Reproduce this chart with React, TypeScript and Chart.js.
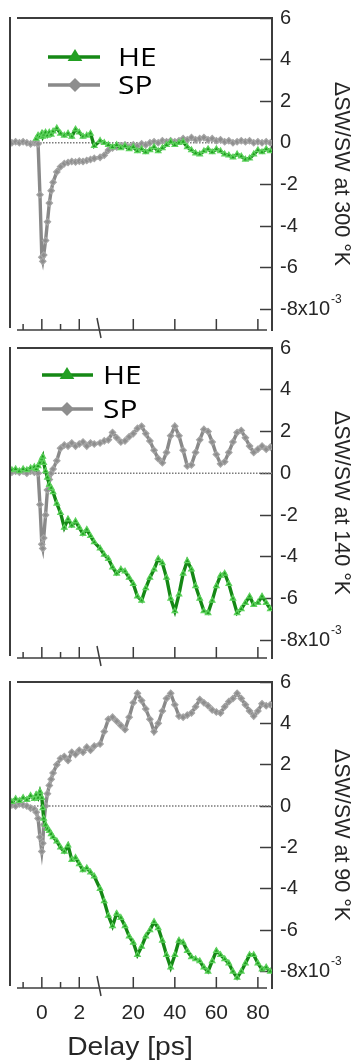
import React, { useEffect, useRef } from 'react';
import { Chart, LinearScale, registerables } from 'chart.js';

Chart.register(...registerables);

// ---------------- data ----------------
const DELAYS_PS = [
  -1.6, -1.4, -1.2, -1.0, -0.8, -0.6, -0.4, -0.3, -0.2, -0.1, 0, 0.05, 0.1, 0.2, 0.3, 0.4, 0.5, 0.6, 0.8, 1.0,
  1.2, 1.4, 1.6, 1.8, 2.0, 2.2, 2.4, 2.6, 2.8,
  4, 6, 8, 10, 12, 14, 16, 18, 20, 22, 24, 26, 28, 30, 32, 34, 36, 38, 40, 42, 44, 46, 48, 50, 52, 54, 56, 58,
  60, 62, 64, 66, 68, 70, 72, 74, 76, 78, 80, 82, 84, 86,
];

const HE_300K = [
  null, null, null, null, null, null, null, 0.2, 0.35, 0.3, 0.45, 0.3, 0.4, 0.5, 0.35, 0.5, 0.4, 0.55, 0.7, 0.45,
  0.35, 0.45, 0.3, 0.65, 0.5, 0.3, 0.35, 0.45, -0.15,
  0.1, 0.0, -0.1, -0.2, -0.1, -0.25, -0.15, -0.3, -0.2, -0.4, -0.3, -0.45, -0.35, -0.2, -0.4, -0.25, -0.1, 0.05,
  -0.1, 0.0, 0.05, -0.2, -0.35, -0.5, -0.55, -0.4, -0.3, -0.45, -0.3, -0.4, -0.55, -0.6, -0.7, -0.55, -0.65,
  -0.8, -0.75, -0.55, -0.35, -0.45, -0.3, -0.4,
];
const SP_300K = [
  0.0, 0.05, 0.0, 0.05, 0.0, -0.05, 0.0, 0.0, -0.05, -2.5, -5.5, -5.7, -5.4, -4.7, -3.8, -2.9, -2.3, -1.9, -1.4,
  -1.15, -1.0, -0.95, -0.9, -0.92, -0.88, -0.9, -0.85, -0.8, -0.75,
  -0.7, -0.6, -0.35, -0.25, -0.2, -0.15, -0.1, -0.2, -0.1, -0.15, -0.05, -0.1, 0.0, 0.05, 0.0, 0.1, 0.05, 0.1,
  0.05, 0.1, 0.2, 0.15, 0.25, 0.15, 0.2, 0.25, 0.15, 0.2, 0.1, 0.15, 0.05, 0.1, 0.0, 0.05, 0.1, 0.05, 0.1, 0.0,
  0.05, 0.0, 0.05, 0.0,
];

const HE_140K = [
  0.15, 0.2, 0.1, 0.2, 0.15, 0.25, 0.3, 0.2, 0.35, 0.5, 0.7, 0.8, 0.5, 0.1, -0.2, -0.55, -0.7, -0.9, -1.45, -1.9,
  -2.6, -2.2, -2.5, -2.3, -2.6, -2.9, -2.7, -3.0, -3.3,
  -3.6, -3.9, -4.1, -4.5, -4.8, -4.6, -4.7, -5.0, -5.3, -5.9, -6.1, -5.5, -5.0, -4.6, -4.1, -4.3, -5.0, -6.0,
  -6.6, -5.8, -4.8, -4.2, -4.6, -5.4, -6.0, -6.6, -6.7, -6.1, -5.4, -4.9, -4.8, -5.3, -6.0, -6.7, -6.5, -6.2,
  -5.9, -6.3, -6.2, -5.9, -6.2, -6.5,
];
const SP_140K = [
  0.05, 0.1, 0.05, 0.1, 0.0, 0.1, 0.05, 0.1, 0.0, -1.5, -3.4, -3.6, -3.1, -2.0, -0.8, -0.3, 0.0, 0.2, 0.6, 1.2,
  1.35, 1.3, 1.45, 1.3, 1.4, 1.5, 1.3, 1.45, 1.4,
  1.45, 1.55, 1.6, 1.95, 1.7, 1.5, 1.55, 1.75, 1.9, 2.15, 2.25, 1.9, 1.55, 1.1, 0.7, 0.5, 1.0, 1.8, 2.25, 1.8,
  1.1, 0.35, 0.4, 1.0, 1.6, 2.1, 2.0, 1.5, 0.9, 0.45, 0.55, 1.0, 1.5, 1.95, 2.05, 1.7, 1.3, 1.0, 1.15, 1.3,
  1.15, 1.25,
];

const HE_90K = [
  0.2, 0.35, 0.25, 0.4, 0.3, 0.5, 0.35, 0.55, 0.4, 0.7, 0.4, -0.1, -0.6, -0.9, -1.1, -1.2, -1.35, -1.5, -1.7,
  -2.0, -2.2, -1.9, -2.6, -2.5, -2.8, -3.1, -3.0, -3.2, -3.4,
  -4.0, -4.6, -5.3, -5.8, -5.2, -5.4, -5.8, -6.3, -6.6, -7.2, -6.8, -6.3, -6.0, -5.6, -5.9, -6.5, -7.2, -7.8,
  -7.2, -6.5, -6.6, -7.0, -7.3, -7.4, -7.5, -7.8, -8.0, -7.5, -7.0, -7.2, -7.4, -7.6, -8.0, -8.3, -8.0, -7.6,
  -7.2, -7.2, -7.6, -7.9, -7.8, -8.0,
];
const SP_90K = [
  0.05, 0.0, 0.1, 0.05, 0.0, -0.1, -0.15, -0.3, -0.6, -1.5, -2.2, -1.8, -0.9, 0.0, 0.6, 1.0, 1.3, 1.6, 2.0, 2.3,
  2.4, 2.2, 2.6, 2.5, 2.7, 2.6, 2.85, 2.7, 2.9,
  3.0, 3.6, 4.2, 4.3, 4.1, 3.9, 3.7, 4.3, 5.0, 5.45, 5.1, 4.7, 4.2, 3.6, 4.0, 4.6, 5.2, 5.45, 4.9, 4.35, 4.3,
  4.4, 4.5, 4.8, 5.15, 5.0, 4.85, 4.65, 4.55, 4.5, 4.8, 5.05, 5.2, 5.45, 5.2, 4.9, 4.6, 4.35, 4.6, 4.95, 4.85,
  4.9,
];

const SERIES_NAMES = ['HE', 'SP'];
const Y_TITLES = ['ΔSW/SW at 300 °K', 'ΔSW/SW at 140 °K', 'ΔSW/SW at 90 °K'];
const X_TITLE = 'Delay [ps]';
const X_LABEL_TICKS = [0, 2, 20, 40, 60, 80];
const X_MINOR_TICKS = [-1, 1];
const Y_TICKS = [-8, -6, -4, -2, 0, 2, 4, 6];

// ---------------- axis geometry ----------------
const X_MIN = -1.7;
const X_MAX = 86.8;
const X_BREAK = 3;
const X_BREAK_FRAC = 88 / 262;

const FONT = "'Liberation Sans', Arial, sans-serif";
const TEXT = '#262626';
const FRAME = '#3c3c3c';
const HE_LINE = '#158815';
const HE_POINT = '#22a022';
const HE_EDGE = '#5fd35f';
const SP_LINE = '#898989';
const SP_POINT = '#8e8e8e';
const SP_EDGE = '#a6a6a6';

class BrokenLinearScale extends LinearScale {
  static id = 'brokenLinear';
  static defaults = { ...(LinearScale as any).defaults };
  getPixelForValue(value: number) {
    const min = (this as any).min;
    const max = (this as any).max;
    let dec;
    if (value <= X_BREAK) dec = ((value - min) / (X_BREAK - min)) * X_BREAK_FRAC;
    else dec = X_BREAK_FRAC + ((value - X_BREAK) / (max - X_BREAK)) * (1 - X_BREAK_FRAC);
    return (this as any).getPixelForDecimal(dec);
  }
  getValueForPixel(pixel: number) {
    const dec = (this as any).getDecimalForPixel(pixel);
    const min = (this as any).min;
    const max = (this as any).max;
    if (dec <= X_BREAK_FRAC) return min + (dec / X_BREAK_FRAC) * (X_BREAK - min);
    return X_BREAK + ((dec - X_BREAK_FRAC) / (1 - X_BREAK_FRAC)) * (max - X_BREAK);
  }
}
Chart.register(BrokenLinearScale as any);

type Legend = { x0: number; x1: number; mx: number; tx: number; rows: number[] };
type Panel = {
  he: (number | null)[];
  sp: (number | null)[];
  title: string;
  yMin: number;
  top: number;
  height: number;
  padTop: number;
  axisH: number;
  xLabels: boolean;
  legend: Legend | null;
};

const PANELS: Panel[] = [
  { he: HE_300K, sp: SP_300K, title: Y_TITLES[0], yMin: -9, top: 0, height: 340, padTop: 18, axisH: 10, xLabels: false,
    legend: { x0: 48, x1: 100, mx: 75, tx: 118, rows: [57, 85] } },
  { he: HE_140K, sp: SP_140K, title: Y_TITLES[1], yMin: -8.85, top: 340, height: 328, padTop: 8, axisH: 10, xLabels: false,
    legend: { x0: 42, x1: 93, mx: 67, tx: 103, rows: [35, 69] } },
  { he: HE_90K, sp: SP_90K, title: Y_TITLES[2], yMin: -8.8, top: 668, height: 395, padTop: 14, axisH: 75, xLabels: true,
    legend: null },
];

function drawTriangle(ctx: CanvasRenderingContext2D, x: number, y: number, r: number) {
  ctx.beginPath();
  ctx.moveTo(x, y - r);
  ctx.lineTo(x + r * 1.05, y + r * 0.7);
  ctx.lineTo(x - r * 1.05, y + r * 0.7);
  ctx.closePath();
  ctx.fill();
}
function drawDiamond(ctx: CanvasRenderingContext2D, x: number, y: number, r: number) {
  ctx.beginPath();
  ctx.moveTo(x, y - r);
  ctx.lineTo(x + r, y);
  ctx.lineTo(x, y + r);
  ctx.lineTo(x - r, y);
  ctx.closePath();
  ctx.fill();
}

function overlayPlugin(p: Panel) {
  return {
    id: 'overlay',
    beforeDatasetsDraw(chart: any) {
      const { ctx, chartArea: a } = chart;
      const y0 = chart.scales.y.getPixelForValue(0);
      ctx.save();
      ctx.strokeStyle = '#7a7a7a';
      ctx.lineWidth = 1.5;
      ctx.setLineDash([1.5, 1.5]);
      ctx.beginPath();
      ctx.moveTo(a.left, y0);
      ctx.lineTo(a.right, y0);
      ctx.stroke();
      ctx.restore();
    },
    afterDraw(chart: any) {
      const { ctx, chartArea: a } = chart;
      const xs = chart.scales.x;
      const ys = chart.scales.y;
      const line = (x1: number, y1: number, x2: number, y2: number) => {
        ctx.beginPath();
        ctx.moveTo(x1, y1);
        ctx.lineTo(x2, y2);
        ctx.stroke();
      };
      ctx.save();
      ctx.strokeStyle = FRAME;
      ctx.lineWidth = 2;
      line(a.left, a.top - 1, a.left, a.bottom - 2);
      line(a.left + 7, a.top, a.right, a.top);
      ctx.lineWidth = 1.5;
      line(a.left + 7, a.bottom, a.right - 5, a.bottom);
      X_LABEL_TICKS.forEach((v) => {
        const x = xs.getPixelForValue(v);
        line(x, a.bottom, x, a.bottom - 11);
      });
      X_MINOR_TICKS.forEach((v) => {
        const x = xs.getPixelForValue(v);
        line(x, a.bottom, x, a.bottom - 6);
      });
      const xb = xs.getPixelForValue(X_BREAK);
      ctx.lineWidth = 1.5;
      line(xb - 1, a.bottom - 12, xb + 3, a.bottom + 8);

      // exponent of the lowest y label
      ctx.fillStyle = TEXT;
      ctx.font = `20px ${FONT}`;
      const w = ctx.measureText('-8x10').width;
      ctx.font = `12px ${FONT}`;
      ctx.textAlign = 'left';
      ctx.textBaseline = 'middle';
      ctx.fillText('-3', ys.left + 8 + w + 1, ys.getPixelForValue(-8) - 10);

      if (p.legend) {
        const L = p.legend;
        const items = [
          { label: SERIES_NAMES[0], color: HE_LINE, fill: HE_POINT, tri: true, y: L.rows[0] },
          { label: SERIES_NAMES[1], color: SP_LINE, fill: SP_POINT, tri: false, y: L.rows[1] },
        ];
        items.forEach((it) => {
          ctx.strokeStyle = it.color;
          ctx.lineWidth = 3.5;
          line(L.x0, it.y, L.x1, it.y);
          ctx.fillStyle = it.fill;
          if (it.tri) drawTriangle(ctx, L.mx, it.y - 1, 7);
          else drawDiamond(ctx, L.mx, it.y, 7);
          ctx.save();
          ctx.translate(L.tx, it.y + 9);
          ctx.scale(1.15, 1);
          ctx.fillStyle = '#000';
          ctx.font = `26px 'Open Sans', sans-serif`;
          ctx.textAlign = 'left';
          ctx.textBaseline = 'alphabetic';
          ctx.fillText(it.label, 0, 0);
          ctx.restore();
        });
      }

      if (p.xLabels) {
        ctx.save();
        ctx.translate(130, a.bottom + 67);
        ctx.scale(1.13, 1);
        ctx.fillStyle = TEXT;
        ctx.font = `25px ${FONT}`;
        ctx.textAlign = 'center';
        ctx.textBaseline = 'alphabetic';
        ctx.fillText(X_TITLE, 0, 0);
        ctx.restore();
      }
      ctx.restore();
    },
  };
}

function buildConfig(p: Panel): any {
  const pts = (vals: (number | null)[]) => DELAYS_PS.map((x, i) => ({ x, y: vals[i] }));
  return {
    type: 'line',
    data: {
      datasets: [
        {
          label: SERIES_NAMES[0], data: pts(p.he), borderColor: HE_LINE, borderWidth: 3.4,
          pointStyle: 'triangle', pointRadius: 3.2, pointBackgroundColor: HE_POINT,
          pointBorderColor: HE_EDGE, pointBorderWidth: 1.2, tension: 0, spanGaps: false,
        },
        {
          label: SERIES_NAMES[1], data: pts(p.sp), borderColor: SP_LINE, borderWidth: 3.4,
          pointStyle: 'rectRot', pointRadius: 3.2, pointBackgroundColor: SP_POINT,
          pointBorderColor: SP_EDGE, pointBorderWidth: 1.2, tension: 0, spanGaps: false,
        },
      ],
    },
    options: {
      responsive: false,
      animation: false,
      events: [],
      layout: { padding: { left: 10, top: p.padTop, right: 0, bottom: 0 } },
      plugins: { legend: { display: false }, tooltip: { enabled: false } },
      scales: {
        x: {
          type: 'brokenLinear',
          min: X_MIN,
          max: X_MAX,
          bounds: 'data',
          afterBuildTicks: (s: any) => { s.ticks = X_LABEL_TICKS.map((v) => ({ value: v })); },
          afterFit: (s: any) => { s.height = p.axisH; s.paddingLeft = 0; s.paddingRight = 0; },
          grid: { display: false, drawTicks: false },
          border: { display: false },
          ticks: {
            display: p.xLabels, padding: 13, color: TEXT, autoSkip: false, maxRotation: 0, minRotation: 0,
            font: { family: FONT, size: 21 },
            callback: (v: number) => String(v),
          },
        },
        y: {
          type: 'linear',
          position: 'right',
          min: p.yMin,
          max: 6,
          afterBuildTicks: (s: any) => { s.ticks = Y_TICKS.map((v) => ({ value: v })); },
          afterFit: (s: any) => { s.width = 84; s.paddingTop = 0; s.paddingBottom = 0; },
          grid: { display: true, drawOnChartArea: false, drawTicks: true, tickLength: -12, tickColor: FRAME, tickWidth: 1.5 },
          border: { display: true, color: FRAME, width: 2 },
          ticks: {
            padding: 20, color: TEXT, font: { family: FONT, size: 20 },
            callback: (v: number) => (v === -8 ? '-8x10' : String(v)),
          },
          title: {
            display: true, text: p.title, color: TEXT, font: { family: FONT, size: 21.5 },
            padding: { top: 2, bottom: 0 },
          },
        },
      },
    },
    plugins: [overlayPlugin(p)],
  };
}

export default function App() {
  const refs = useRef<(HTMLCanvasElement | null)[]>([]);
  useEffect(() => {
    const charts = PANELS.map((p, i) => new Chart(refs.current[i] as HTMLCanvasElement, buildConfig(p)));
    return () => charts.forEach((c) => c.destroy());
  }, []);
  return (
    <div style={{ position: 'absolute', left: 0, top: 0, width: 356, height: 1063, background: '#fff' }}>
      {PANELS.map((p, i) => (
        <canvas
          key={i}
          ref={(el) => { refs.current[i] = el; }}
          width={356}
          height={p.height}
          style={{ position: 'absolute', left: 0, top: p.top, width: 356, height: p.height, display: 'block' }}
        />
      ))}
    </div>
  );
}
